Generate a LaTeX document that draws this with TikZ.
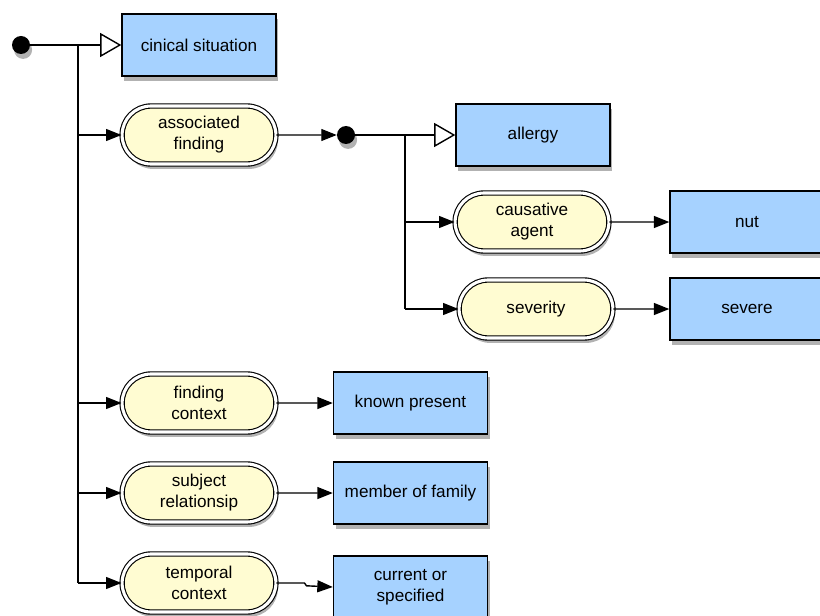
\documentclass[tikz,border=0pt]{standalone}
\usepackage{fontspec}
\setmainfont{Liberation Sans}
\usetikzlibrary{arrows.meta,shapes.misc,shadows}

\definecolor{valueblue}{RGB}{166,210,255}
\definecolor{roleyellow}{RGB}{255,252,210}

\tikzset{
  shade off/.style={drop shadow={shadow xshift=1.5pt,shadow yshift=-3.5pt,opacity=0.3,fill=black}},
  valuebox/.style={draw,line width=1pt,fill=valueblue,minimum width=3.85cm,minimum height=1.55cm,
    align=center,shade off},
  rolebox/.style={rounded rectangle,draw,line width=0.8pt,double=white,double distance=2.2pt,
    fill=roleyellow,minimum width=4.08cm,minimum height=1.45cm,align=center,shade off},
  startdot/.style={circle,fill=black,inner sep=0pt,minimum size=0.45cm,shade off},
  link/.style={line width=1pt,-{Triangle[length=11pt,width=8.5pt]}},
  isa/.style={line width=1pt,-{Triangle[open,length=15pt,width=17pt,fill=white]}}
}

\begin{document}
\begin{tikzpicture}[font=\fontsize{12.2}{15}\selectfont]
\useasboundingbox (0,0) rectangle (20.5,15.375);
\clip (0,0) rectangle (20.5,15.375);

% left column
\node[startdot] (start) at (0.525,14.25) {};
\coordinate (bus) at (1.95,14.25);
\coordinate (busend) at (1.95,0.8);
\node[valuebox] (situation) at (4.975,14.25) {cinical situation};
\node[rolebox] (assoc) at (4.975,12.0) {associated\\finding};
\node[rolebox] (fcontext) at (4.975,5.3) {finding\\context};
\node[rolebox] (subject) at (4.975,3.05) {subject\\relationsip};
\node[rolebox] (temporal) at (4.975,0.8) {temporal\\context};

\node[valuebox] (known) at (10.2625,5.3) {known present};
\node[valuebox] (family) at (10.2625,3.05) {member of family};
\node[valuebox] (current) at (10.2625,0.7) {current or\\specified};

% finding part
\node[startdot] (finddot) at (8.65,12.0) {};
\coordinate (fbus) at (10.125,12.0);
\coordinate (fbusend) at (10.125,7.65);
\node[valuebox] (allergy) at (13.325,12.0) {allergy};
\node[rolebox] (agent) at (13.3,9.825) {causative\\agent};
\node[rolebox] (severity) at (13.4,7.65) {severity};
\node[valuebox] (nut) at (18.675,9.825) {nut};
\node[valuebox] (severe) at (18.675,7.65) {severe};

\draw[line width=1pt] (start) -- (bus);
\draw[isa] (bus) -- (situation);
\draw[line width=1pt] (bus) -- (busend);
\draw[link] (bus |- assoc) -- (assoc);
\draw[link] (bus |- fcontext) -- (fcontext);
\draw[link] (bus |- subject) -- (subject);
\draw[link] (busend) -- (temporal);

\draw[link] (assoc) -- (finddot);
\draw[line width=1pt] (finddot) -- (fbus);
\draw[isa] (fbus) -- (allergy);
\draw[line width=1pt] (fbus) -- (fbusend);
\draw[link] (fbus |- agent) -- (agent);
\draw[link] (fbusend) -- (severity);
\draw[link] (agent) -- (nut);
\draw[link] (severity) -- (severe);

\draw[link] (fcontext) -- (known);
\draw[link] (subject) -- (family);
\draw[link] (temporal.east) -- ++(0.7,0) -- ++(0.05,-0.07) -- (current.west);
\end{tikzpicture}
\end{document}
